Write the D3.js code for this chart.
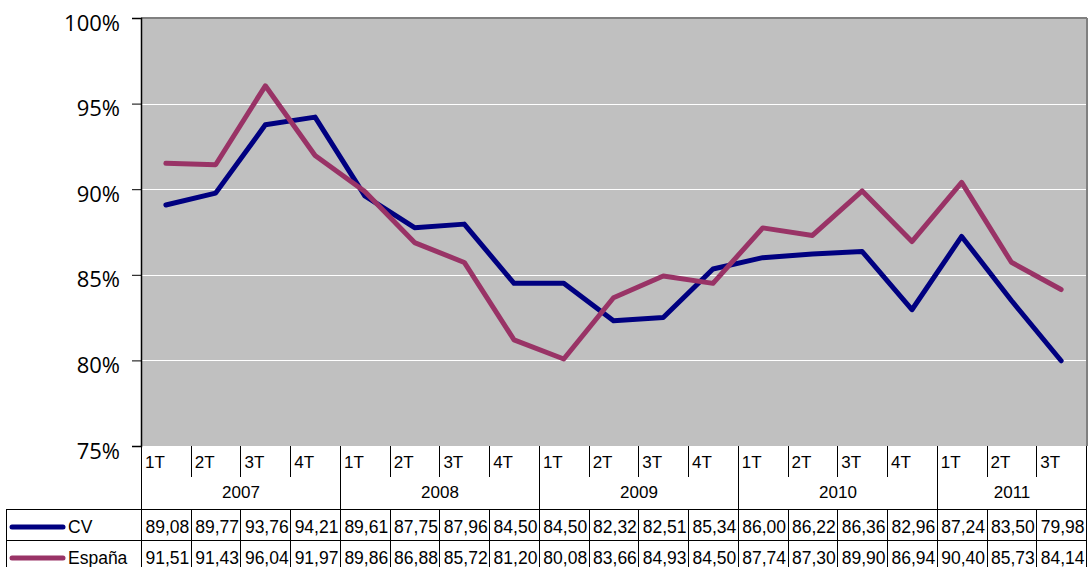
<!DOCTYPE html>
<html><head><meta charset="utf-8">
<script src="https://cdn.jsdelivr.net/npm/d3@7"></script>
<style>body{margin:0;background:#fff}svg{display:block}</style>
</head><body>
<svg id="c" width="1088" height="567"></svg>
<script>
const quarters = ["1T","2T","3T","4T","1T","2T","3T","4T","1T","2T","3T","4T","1T","2T","3T","4T","1T","2T","3T"];
const years = ["2007","2008","2009","2010","2011"];
const yearCounts = [4,4,4,4,3];
const seriesNames = ["CV","España"];
const cvValues = [89.08,89.77,93.76,94.21,89.61,87.75,87.96,84.50,84.50,82.32,82.51,85.34,86.00,86.22,86.36,82.96,87.24,83.50,79.98];
const espValues = [91.51,91.43,96.04,91.97,89.86,86.88,85.72,81.20,80.08,83.66,84.93,84.50,87.74,87.30,89.90,86.94,90.40,85.73,84.14];
const yTicks = [75,80,85,90,95,100];
const colors = ["#000080","#993366"];

const svg = d3.select("#c");
const L=141, R=1086, T=18, B=446;
const idx = d3.range(quarters.length);
const x = d3.scaleBand().domain(idx).range([L,R]).padding(0);
const y = d3.scaleLinear().domain([75,100]).range([B,T]);

svg.append("rect").attr("x",L).attr("y",T).attr("width",R-L).attr("height",B-T).attr("fill","#c0c0c0");
svg.append("g").selectAll("line").data(yTicks.filter(t=>t>75&&t<100)).join("line")
  .attr("x1",L).attr("x2",R).attr("y1",d=>Math.round(y(d))+0.5).attr("y2",d=>Math.round(y(d))+0.5)
  .attr("stroke","#fff").attr("stroke-width",1);
svg.append("line").attr("x1",L).attr("x2",R+1).attr("y1",T).attr("y2",T).attr("stroke","#808080").attr("stroke-width",2);
svg.append("line").attr("x1",R+1).attr("x2",R+1).attr("y1",T).attr("y2",B).attr("stroke","#808080").attr("stroke-width",2);

const yAxis = d3.axisLeft(y).tickValues(yTicks).tickSize(9).tickPadding(12).tickFormat(d=>d+"%");
const ga = svg.append("g").attr("transform",`translate(${L},0)`).call(yAxis);
ga.select(".domain").attr("stroke","#000").attr("stroke-width",1.5);
ga.selectAll(".tick line").attr("stroke","#000");
ga.selectAll("text").attr("font-family","'Open Sans', 'DejaVu Sans', sans-serif").attr("font-size",22).attr("fill","#000").attr("dy","0.55em");

const line = d3.line().x((d,i)=>x(i)+x.bandwidth()/2).y(d=>y(d));
[cvValues, espValues].forEach((vals,k)=>{
  svg.append("path").datum(vals).attr("d",line).attr("fill","none")
    .attr("stroke",colors[k]).attr("stroke-width",5).attr("stroke-linejoin","round").attr("stroke-linecap","round");
});

const tf = "'Liberation Sans', Arial, sans-serif";
const tg = svg.append("g").attr("stroke","#000").attr("stroke-width",1);
let bounds=[0]; yearCounts.forEach(c=>bounds.push(bounds[bounds.length-1]+c));
const bx = i => i<quarters.length ? Math.round(x(i))+0.5 : R+0.5;
tg.append("line").attr("x1",6).attr("x2",R).attr("y1",509.5).attr("y2",509.5);
tg.append("line").attr("x1",6).attr("x2",R).attr("y1",540.5).attr("y2",540.5);
tg.append("line").attr("x1",6.5).attr("x2",6.5).attr("y1",509).attr("y2",567);
tg.selectAll(".q").data(idx.filter(i=>!bounds.includes(i))).join("line")
  .attr("x1",d=>bx(d)).attr("x2",d=>bx(d)).attr("y1",B).attr("y2",477);
tg.selectAll(".yb").data(bounds).join("line")
  .attr("x1",d=>bx(d)).attr("x2",d=>bx(d)).attr("y1",B).attr("y2",567);
tg.selectAll(".d").data(idx.filter(i=>!bounds.includes(i))).join("line")
  .attr("x1",d=>bx(d)).attr("x2",d=>bx(d)).attr("y1",509).attr("y2",567);

svg.append("g").selectAll("text").data(quarters).join("text")
  .attr("x",(d,i)=>x(i)+4).attr("y",468).text(d=>d)
  .attr("font-family",tf).attr("font-size",17).attr("fill","#000");
svg.append("g").selectAll("text").data(years).join("text")
  .attr("x",(d,i)=>(bx(bounds[i])+bx(bounds[i+1]))/2).attr("y",498).attr("text-anchor","middle").text(d=>d)
  .attr("font-family",tf).attr("font-size",17).attr("fill","#000");
const fmt = v => v.toFixed(2).replace(".",",");
[cvValues, espValues].forEach((vals,k)=>{
  svg.append("g").selectAll("text").data(vals).join("text")
    .attr("x",(d,i)=>x(i)+x.bandwidth()-1.5).attr("y",k===0?533:564).attr("text-anchor","end").text(fmt)
    .attr("font-family",tf).attr("font-size",17.5).attr("fill","#000");
  svg.append("line").attr("x1",12).attr("x2",63).attr("y1",k===0?527:558).attr("y2",k===0?527:558)
    .attr("stroke",colors[k]).attr("stroke-width",5).attr("stroke-linecap","round");
  svg.append("text").attr("x",68).attr("y",k===0?533:564).text(seriesNames[k])
    .attr("font-family",tf).attr("font-size",17.5).attr("fill","#000");
});
</script>
</body></html>
